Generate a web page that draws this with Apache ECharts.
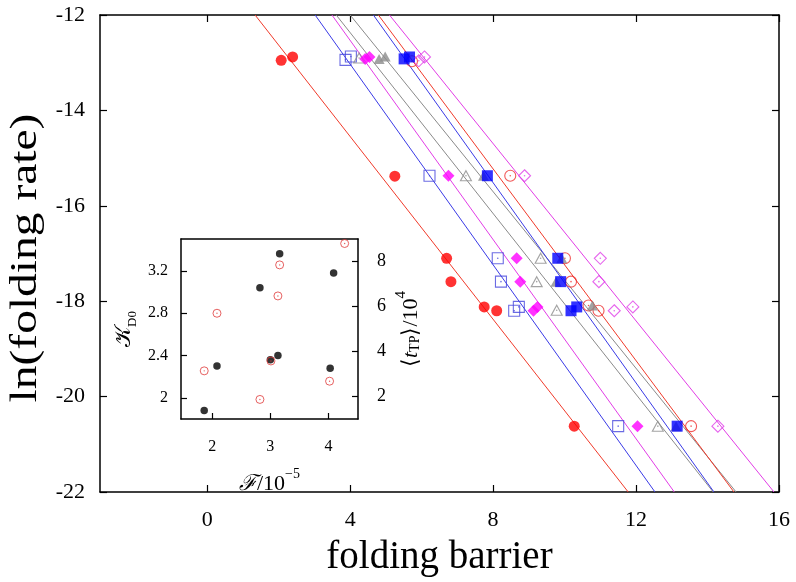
<!DOCTYPE html>
<html>
<head>
<meta charset="utf-8">
<script src="https://cdn.jsdelivr.net/npm/echarts@6/dist/echarts.min.js"></script>
<style>html,body{margin:0;padding:0;background:#fff}#c{width:796px;height:582px}</style>
</head>
<body>
<div id="c"></div>
<script>
// ---------- main panel data ----------
const xTicks = [0, 4, 8, 12, 16];
const yTicks = [-22, -20, -18, -16, -14, -12];

const redFilledX  = [2.07, 2.39, 5.25, 6.70, 6.82, 7.75, 8.10, 10.27];
const redFilledY  = [-12.95, -12.88, -15.38, -17.10, -17.59, -18.12, -18.20, -20.62];
const blueOpenX   = [3.87, 4.02, 6.22, 8.13, 8.22, 8.59, 8.72, 11.50];
const blueOpenY   = [-12.94, -12.87, -15.37, -17.10, -17.59, -18.20, -18.12, -20.62];
const magFilledX  = [4.42, 4.54, 6.75, 8.66, 8.76, 9.13, 9.24, 12.04];
const magFilledY  = [-12.92, -12.88, -15.37, -17.10, -17.59, -18.20, -18.12, -20.62];
const grayOpenX   = [4.25, 7.24, 9.33, 9.22, 9.78, 12.61];
const grayOpenY   = [-12.90, -15.37, -17.10, -17.59, -18.19, -20.62];
const grayFilledX = [4.81, 4.98, 7.73, 9.92, 9.76, 10.78, 13.12];
const grayFilledY = [-12.92, -12.87, -15.37, -17.10, -17.59, -18.09, -20.62];
const blueFilledX = [5.51, 5.66, 7.84, 9.81, 9.89, 10.18, 10.34, 13.15];
const blueFilledY = [-12.92, -12.88, -15.37, -17.10, -17.59, -18.20, -18.12, -20.62];
const redOpenX    = [5.73, 8.48, 10.01, 10.18, 10.67, 10.95, 13.54];
const redOpenY    = [-12.97, -15.37, -17.10, -17.59, -18.09, -18.20, -20.62];
const magOpenX    = [5.92, 6.08, 8.88, 11.00, 10.96, 11.39, 11.91, 14.29];
const magOpenY    = [-12.96, -12.88, -15.37, -17.10, -17.59, -18.20, -18.12, -20.62];

// fitted lines: x at y = -12 (top) and y = -22 (bottom)
const lineYEnds = [-12, -22];
const lineTopX = [1.34, 3.02, 3.49, 3.61, 4.00, 4.65, 4.79, 5.10];
const lineBotX = [11.78, 12.53, 13.07, 14.16, 14.80, 14.18, 14.74, 15.86];

// ---------- inset data ----------
const insetFTicks = [2, 3, 4];
const insetKTicks = [2, 2.4, 2.8, 3.2];
const insetTTicks = [2, 4, 6, 8];
const insetF_K = [1.86, 2.08, 2.82, 3.00, 3.13, 3.16, 4.03, 4.09];
const insetK   = [1.88, 2.30, 3.04, 2.36, 2.40, 3.36, 2.28, 3.18];
const insetF_T = [1.86, 2.08, 2.82, 3.01, 3.13, 3.16, 4.02, 4.28];
const insetT   = [3.14, 5.70, 1.87, 3.58, 6.47, 7.85, 2.68, 8.80];

const FONT = 'Liberation Serif';
const zip = (a, b) => a.map((v, i) => [v, b[i]]);

const markerDefs = [
  {x: redFilledX,  y: redFilledY,  symbol: 'circle',   size: 11, color: '#ff0000', filled: true,  lineColor: '#f03a2a'},
  {x: blueOpenX,   y: blueOpenY,   symbol: 'rect',     size: 11, color: '#4646dc', filled: false, lineColor: '#3a3ae6'},
  {x: magFilledX,  y: magFilledY,  symbol: 'diamond',  size: 12, color: '#ff00ff', filled: true,  lineColor: '#e23ce6'},
  {x: grayOpenX,   y: grayOpenY,   symbol: 'triangle', size: 11, color: '#8c8c8c', filled: false, lineColor: '#8a8a8a'},
  {x: grayFilledX, y: grayFilledY, symbol: 'triangle', size: 11, color: '#8c8c8c', filled: true,  lineColor: '#8a8a8a'},
  {x: blueFilledX, y: blueFilledY, symbol: 'rect',     size: 11, color: '#0000ff', filled: true,  lineColor: '#3a3ae6'},
  {x: redOpenX,    y: redOpenY,    symbol: 'circle',   size: 11, color: '#ee3030', filled: false, lineColor: '#f03a2a'},
  {x: magOpenX,    y: magOpenY,    symbol: 'diamond',  size: 12, color: '#e040e8', filled: false, lineColor: '#e23ce6'}
];

const series = [];
markerDefs.forEach((d, i) => {
  series.push({
    type: 'line', xAxisIndex: 0, yAxisIndex: 0, z: 1,
    data: [[lineTopX[i], lineYEnds[0]], [lineBotX[i], lineYEnds[1]]],
    symbol: 'none', silent: true,
    lineStyle: {color: d.lineColor, width: 1}
  });
});
markerDefs.forEach((d, i) => {
  series.push({
    type: 'scatter', xAxisIndex: 0, yAxisIndex: 0, z: 3 + (d.filled ? 1 : 0),
    data: zip(d.x, d.y), symbol: d.symbol, symbolSize: d.symbol === 'triangle' ? [11, 10] : d.size,
    itemStyle: d.filled ? {color: d.color} : {color: 'rgba(255,255,255,0)', borderColor: d.color, borderWidth: 1.1}
  });
  if (!d.filled) {
    series.push({
      type: 'scatter', xAxisIndex: 0, yAxisIndex: 0, z: 3,
      data: zip(d.x, d.y), symbol: 'circle', symbolSize: 1.6,
      itemStyle: {color: d.color}
    });
  }
});
// inset
series.push({
  type: 'scatter', xAxisIndex: 2, yAxisIndex: 2, z: 5,
  data: zip(insetF_K, insetK), symbol: 'circle', symbolSize: 7.5,
  itemStyle: {color: '#000'}
});
series.push({
  type: 'scatter', xAxisIndex: 2, yAxisIndex: 3, z: 6,
  data: zip(insetF_T, insetT), symbol: 'circle', symbolSize: 8,
  itemStyle: {color: 'rgba(255,255,255,0)', borderColor: '#e03a3a', borderWidth: 1}
});
series.push({
  type: 'scatter', xAxisIndex: 2, yAxisIndex: 3, z: 6,
  data: zip(insetF_T, insetT), symbol: 'circle', symbolSize: 1.4,
  itemStyle: {color: '#e03a3a'}
});

const axLine = {show: true, onZero: false, lineStyle: {color: '#000', width: 1.5}};
const tickIn = (vals, len) => ({show: true, inside: true, length: len, customValues: vals, lineStyle: {color: '#000', width: 1.2}});
const noLabel = {show: false};

const option = {
  animation: false,
  backgroundColor: '#fff',
  grid: [
    {left: 100, right: 17, top: 15, bottom: 88},
    {left: 181, right: 438, top: 239, bottom: 163}
  ],
  xAxis: [
    {type: 'value', gridIndex: 0, position: 'bottom', min: -3, max: 16,
     axisLine: axLine, axisTick: tickIn(xTicks, 7), splitLine: {show: false},
     axisLabel: {customValues: xTicks, fontFamily: FONT, fontSize: 22, color: '#000', margin: 17},
     name: 'folding barrier', nameLocation: 'middle', nameGap: 46,
     nameTextStyle: {fontFamily: FONT, fontSize: 39, color: '#000'}},
    {type: 'value', gridIndex: 0, position: 'top', min: -3, max: 16,
     axisLine: axLine, axisTick: tickIn(xTicks, 7), splitLine: {show: false}, axisLabel: noLabel},
    {type: 'value', gridIndex: 1, position: 'bottom', min: 1.46, max: 4.51,
     axisLine: axLine, axisTick: tickIn(insetFTicks, 6), splitLine: {show: false},
     axisLabel: {customValues: insetFTicks, fontFamily: FONT, fontSize: 16, color: '#000', margin: 20},
     name: '{f|ℱ}{n|/10}{s|−5}', nameLocation: 'middle', nameGap: 48,
     nameTextStyle: {fontFamily: FONT, fontSize: 22, color: '#000',
       rich: {
         f: {fontFamily: FONT, fontSize: 22, fontStyle: 'italic', lineHeight: 28, verticalAlign: 'bottom'},
         n: {fontFamily: FONT, fontSize: 22, lineHeight: 28, verticalAlign: 'bottom'},
         s: {fontFamily: FONT, fontSize: 14, lineHeight: 14, verticalAlign: 'top'}
       }}},
    {type: 'value', gridIndex: 1, position: 'top', min: 1.46, max: 4.51,
     axisLine: axLine, axisTick: {show: false}, splitLine: {show: false}, axisLabel: noLabel}
  ],
  yAxis: [
    {type: 'value', gridIndex: 0, position: 'left', min: -22, max: -12, interval: 2,
     axisLine: axLine, axisTick: tickIn(yTicks, 7), splitLine: {show: false},
     axisLabel: {customValues: yTicks, fontFamily: FONT, fontSize: 22, color: '#000', margin: 15}},
    {type: 'value', gridIndex: 0, position: 'right', min: -22, max: -12, interval: 2,
     axisLine: axLine, axisTick: tickIn(yTicks, 7), splitLine: {show: false}, axisLabel: noLabel},
    {type: 'value', gridIndex: 1, position: 'left', min: 1.8, max: 3.5,
     axisLine: axLine, axisTick: tickIn(insetKTicks, 6), splitLine: {show: false},
     axisLabel: {customValues: insetKTicks, fontFamily: FONT, fontSize: 16, color: '#000', margin: 13},
     name: '{k|𝒦}{d|D0}', nameLocation: 'middle', nameGap: 42,
     nameTextStyle: {fontFamily: FONT, fontSize: 20, color: '#000',
       rich: {
         k: {fontFamily: FONT, fontSize: 22, lineHeight: 26, verticalAlign: 'top'},
         d: {fontFamily: FONT, fontSize: 13, lineHeight: 26, verticalAlign: 'bottom'}
       }}},
    {type: 'value', gridIndex: 1, position: 'right', min: 1, max: 9,
     axisLine: axLine, axisTick: tickIn(insetTTicks, 6), splitLine: {show: false},
     axisLabel: {customValues: insetTTicks, fontFamily: FONT, fontSize: 18, color: '#000', margin: 19},
     name: '{n|⟨}{t|t}{d|TP}{n|⟩/10}{s|4}', nameLocation: 'middle', nameGap: 36,
     nameTextStyle: {fontFamily: FONT, fontSize: 22, color: '#000',
       rich: {
         n: {fontFamily: FONT, fontSize: 22, lineHeight: 28, verticalAlign: 'bottom'},
         t: {fontFamily: FONT, fontSize: 22, fontStyle: 'italic', lineHeight: 28, verticalAlign: 'bottom'},
         d: {fontFamily: FONT, fontSize: 14, lineHeight: 14, verticalAlign: 'bottom'},
         s: {fontFamily: FONT, fontSize: 15, lineHeight: 15, verticalAlign: 'top'}
       }}}
  ],
  graphic: [
    {type: 'text', x: 26, y: 258, rotation: Math.PI / 2, scaleX: 1.25, z: 10,
     style: {text: 'ln(folding rate)', x: 0, y: 0, align: 'center', verticalAlign: 'middle',
             font: '38px "Liberation Serif"', fill: '#000'}}
  ],
  series: series
};

const chart = echarts.init(document.getElementById('c'), null, {renderer: 'canvas'});
chart.setOption(option);
</script>
</body>
</html>
